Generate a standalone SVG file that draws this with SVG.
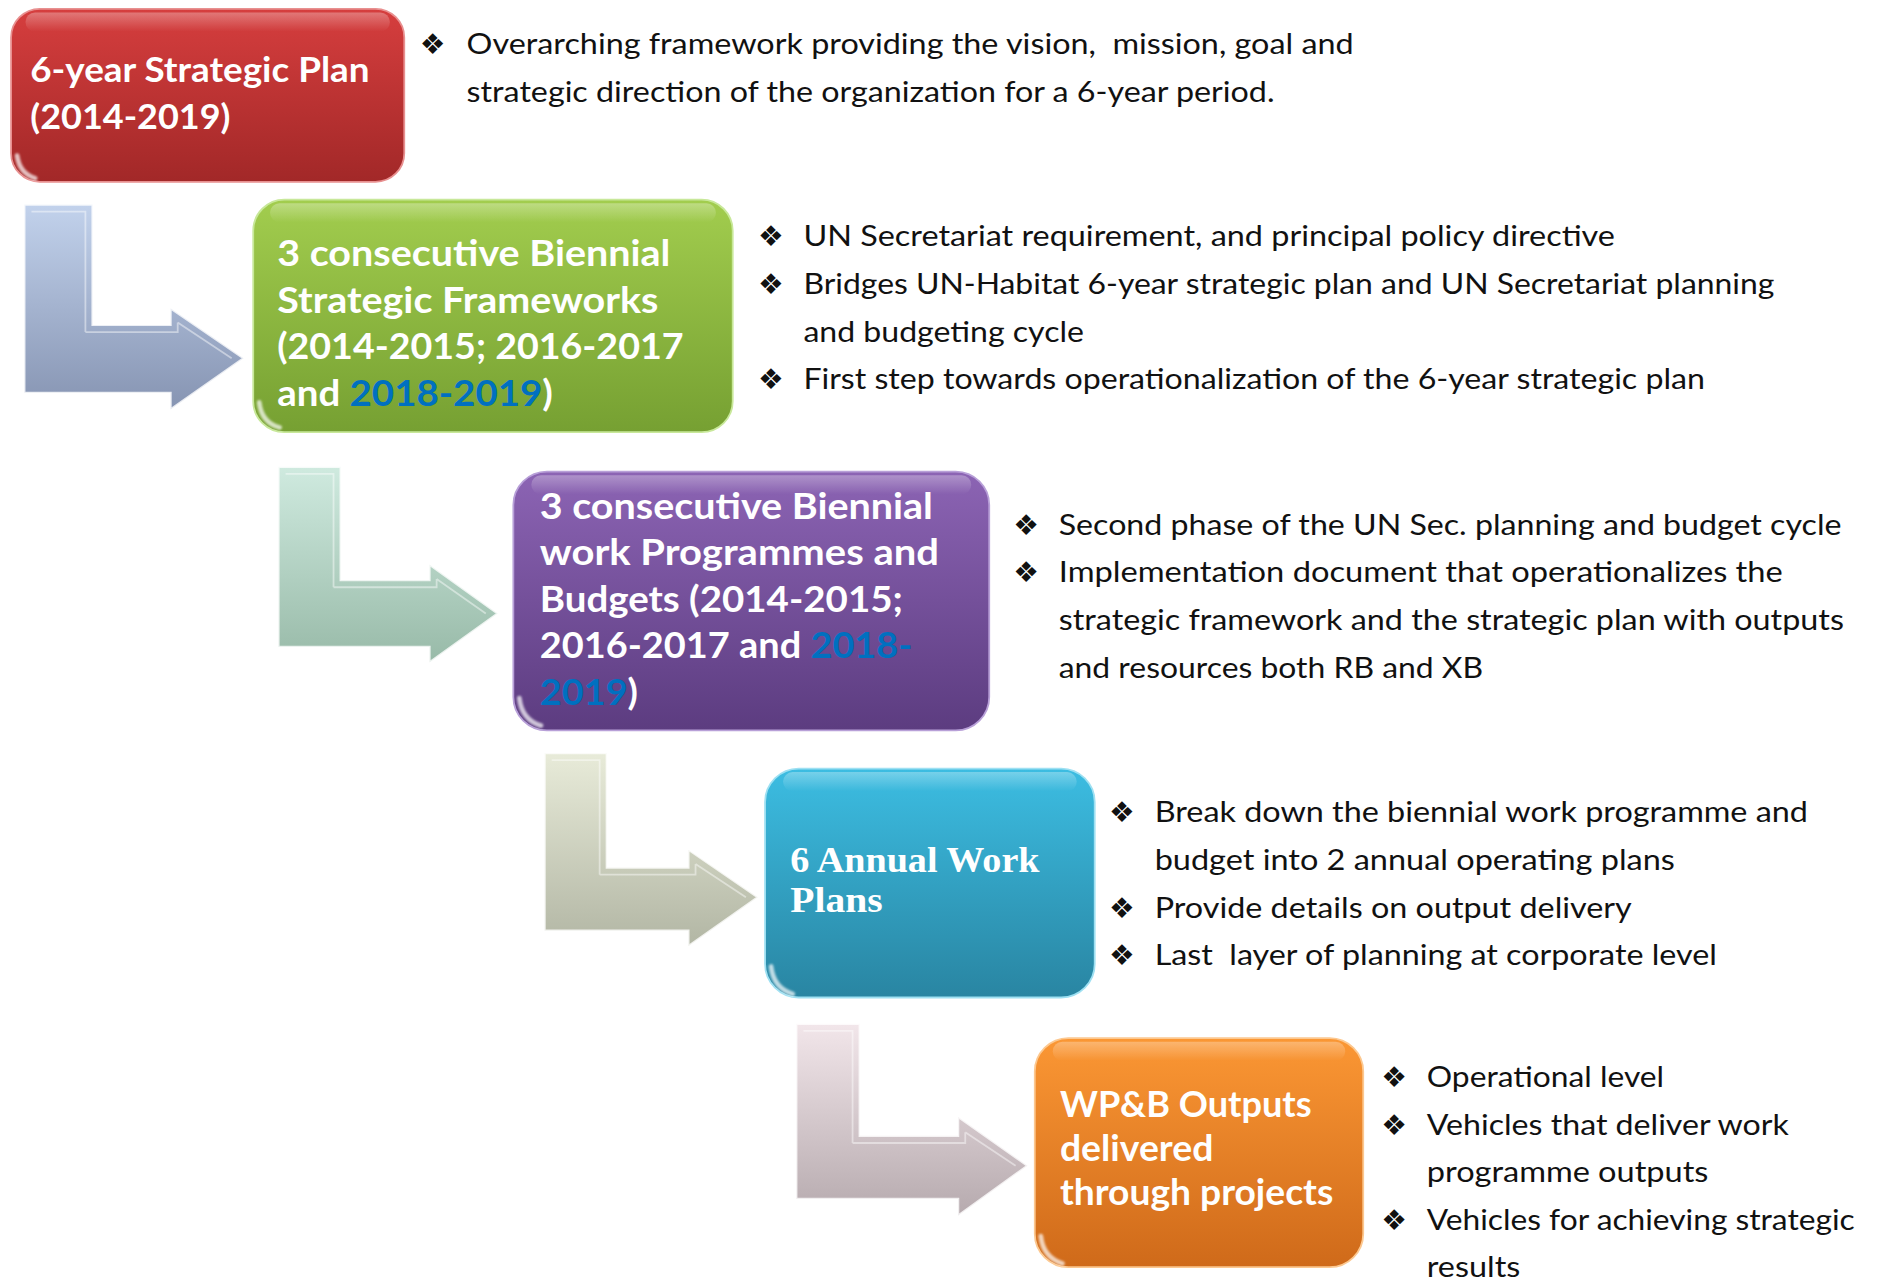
<svg xmlns="http://www.w3.org/2000/svg" width="1877" height="1282" viewBox="0 0 1877 1282">
<defs>
<style>
.title{font-family:Lato,"Open Sans","Liberation Sans",sans-serif;font-weight:bold;fill:#ffffff}
.serif{font-family:"Liberation Serif","DejaVu Serif",serif;font-weight:bold;fill:#ffffff}
.blue{fill:#0070C0}
.txt{font-family:Lato,"Open Sans","Liberation Sans",sans-serif;font-size:25px;fill:#111111}
.bul{font-family:"DejaVu Sans",sans-serif;font-size:24px;fill:#111111}
.gloss{fill:url(#gloss)}
.glint{fill:none;stroke:#ffffff;stroke-width:4;stroke-opacity:0.7;stroke-linecap:round;filter:url(#soft)}
.arr{stroke:#ffffff;stroke-width:2;stroke-opacity:0.8;stroke-linejoin:miter}
.bevel{fill:none;stroke:#ffffff;stroke-width:1.5;stroke-opacity:0.45}
</style>
<filter id="soft" x="-50%" y="-50%" width="200%" height="200%"><feGaussianBlur stdDeviation="0.8"/></filter>
<linearGradient id="gRed" x1="0" y1="0" x2="0" y2="1"><stop offset="0" stop-color="#d63e3e"/><stop offset="1" stop-color="#a22828"/></linearGradient>
<linearGradient id="gGreen" x1="0" y1="0" x2="0" y2="1"><stop offset="0" stop-color="#a2cd4e"/><stop offset="1" stop-color="#76a032"/></linearGradient>
<linearGradient id="gPurple" x1="0" y1="0" x2="0" y2="1"><stop offset="0" stop-color="#8c64b4"/><stop offset="1" stop-color="#5c3c80"/></linearGradient>
<linearGradient id="gBlue" x1="0" y1="0" x2="0" y2="1"><stop offset="0" stop-color="#3cbde2"/><stop offset="1" stop-color="#2985a2"/></linearGradient>
<linearGradient id="gOrange" x1="0" y1="0" x2="0" y2="1"><stop offset="0" stop-color="#fb9734"/><stop offset="1" stop-color="#cf6a1a"/></linearGradient>
<linearGradient id="gloss" x1="0" y1="0" x2="0" y2="1"><stop offset="0" stop-color="#ffffff" stop-opacity="0.3"/><stop offset="1" stop-color="#ffffff" stop-opacity="0"/></linearGradient>
<linearGradient id="a1" x1="0" y1="0" x2="0" y2="1"><stop offset="0" stop-color="#c2d2ec"/><stop offset="1" stop-color="#8694b2"/></linearGradient>
<linearGradient id="a2" x1="0" y1="0" x2="0" y2="1"><stop offset="0" stop-color="#cfeadf"/><stop offset="1" stop-color="#98baa8"/></linearGradient>
<linearGradient id="a3" x1="0" y1="0" x2="0" y2="1"><stop offset="0" stop-color="#e8ebd9"/><stop offset="1" stop-color="#b2b6a4"/></linearGradient>
<linearGradient id="a4" x1="0" y1="0" x2="0" y2="1"><stop offset="0" stop-color="#f2e6ea"/><stop offset="1" stop-color="#b6aaae"/></linearGradient>
</defs>
<rect width="1877" height="1282" fill="#ffffff"/>
<g transform="translate(1.5,0.5) scale(1.1987,1.1926)">
<g id="connectors">
<path class="arr" fill="url(#a1)" d="M19,171 H76 V272 H141 V258 L202,300 L141,343 V329 H19 Z"/>
<path class="bevel" d="M25,177 H70 V278 M70,278 H147 V270 M147,270 L192,300"/>
<path class="arr" fill="url(#a2)" d="M231,391 H283 V486 H357 V473 L414,514 L357,555 V542 H231 Z"/>
<path class="bevel" d="M237,397 H277 V492 M277,492 H363 V485 M363,485 L404,514"/>
<path class="arr" fill="url(#a3)" d="M453,631 H505 V727 H573 V712 L631,752 L573,793 V780 H453 Z"/>
<path class="bevel" d="M459,637 H499 V733 M499,733 H579 V724 M579,724 L621,752"/>
<path class="arr" fill="url(#a4)" d="M663,858 H716 V952 H798 V936 L856,977 L798,1019 V1005 H663 Z"/>
<path class="bevel" d="M669,864 H710 V958 M710,958 H804 V949 M804,949 L846,977"/>
</g>

<g id="node-strategic-plan">
<rect x="8" y="7" width="328" height="145" rx="24" fill="url(#gRed)" stroke="#e89090" stroke-width="1.5"/>
<rect x="20" y="10" width="304" height="16" rx="8" class="gloss"/>
<path class="glint" d="M13,130 Q15,145 28,149"/>
<text class="title" font-size="29" x="24" y="68" textLength="283" lengthAdjust="spacingAndGlyphs">6-year Strategic Plan</text>
<text class="title" font-size="29" x="24" y="108" textLength="167" lengthAdjust="spacingAndGlyphs">(2014-2019)</text>
</g>
<g id="desc-strategic-plan">
<text class="bul" x="349" y="45">❖</text>
<text class="txt" x="388" y="45" xml:space="preserve" textLength="740" lengthAdjust="spacingAndGlyphs">Overarching framework providing the vision,  mission, goal and</text>
<text class="txt" x="388" y="85" textLength="674" lengthAdjust="spacingAndGlyphs">strategic direction of the organization for a 6-year period.</text>
</g>

<g id="node-strategic-frameworks">
<rect x="210" y="167" width="400" height="195" rx="26" fill="url(#gGreen)" stroke="#c8e89a" stroke-width="1.5"/>
<rect x="224" y="170" width="372" height="16" rx="8" class="gloss"/>
<path class="glint" d="M215,337 Q217,354 232,358"/>
<text class="title" font-size="31" x="230" y="223" textLength="328" lengthAdjust="spacingAndGlyphs">3 consecutive Biennial</text>
<text class="title" font-size="31" x="230" y="262" textLength="318" lengthAdjust="spacingAndGlyphs">Strategic Frameworks</text>
<text class="title" font-size="31" x="230" y="301" textLength="339" lengthAdjust="spacingAndGlyphs">(2014-2015; 2016-2017</text>
<text class="title" font-size="31" x="230" y="340" textLength="230" lengthAdjust="spacingAndGlyphs">and <tspan class="blue">2018-2019</tspan>)</text>
</g>
<g id="desc-strategic-frameworks">
<text class="bul" x="631" y="206">❖</text>
<text class="txt" x="669" y="206" textLength="677" lengthAdjust="spacingAndGlyphs">UN Secretariat requirement, and principal policy directive</text>
<text class="bul" x="631" y="246">❖</text>
<text class="txt" x="669" y="246" textLength="810" lengthAdjust="spacingAndGlyphs">Bridges UN-Habitat 6-year strategic plan and UN Secretariat planning</text>
<text class="txt" x="669" y="286" textLength="234" lengthAdjust="spacingAndGlyphs">and budgeting cycle</text>
<text class="bul" x="631" y="326">❖</text>
<text class="txt" x="669" y="326" textLength="752" lengthAdjust="spacingAndGlyphs">First step towards operationalization of the 6-year strategic plan</text>
</g>

<g id="node-work-programmes">
<rect x="427" y="395" width="397" height="217" rx="28" fill="url(#gPurple)" stroke="#b8a0d8" stroke-width="1.5"/>
<rect x="442" y="398" width="367" height="16" rx="8" class="gloss"/>
<path class="glint" d="M432,585 Q434,603 450,608"/>
<text class="title" font-size="31" x="449" y="434.5" textLength="328" lengthAdjust="spacingAndGlyphs">3 consecutive Biennial</text>
<text class="title" font-size="31" x="449" y="473.5" textLength="333" lengthAdjust="spacingAndGlyphs">work Programmes and</text>
<text class="title" font-size="31" x="449" y="512.5" textLength="303" lengthAdjust="spacingAndGlyphs">Budgets (2014-2015;</text>
<text class="title" font-size="31" x="449" y="551.5" textLength="311" lengthAdjust="spacingAndGlyphs">2016-2017 and <tspan class="blue">2018-</tspan></text>
<text class="title" font-size="31" x="449" y="590.5" textLength="82" lengthAdjust="spacingAndGlyphs"><tspan class="blue">2019</tspan>)</text>
</g>
<g id="desc-work-programmes">
<text class="bul" x="844" y="448">❖</text>
<text class="txt" x="882" y="448" textLength="653" lengthAdjust="spacingAndGlyphs">Second phase of the UN Sec. planning and budget cycle</text>
<text class="bul" x="844" y="488">❖</text>
<text class="txt" x="882" y="488" textLength="604" lengthAdjust="spacingAndGlyphs">Implementation document that operationalizes the</text>
<text class="txt" x="882" y="528" textLength="655" lengthAdjust="spacingAndGlyphs">strategic framework and the strategic plan with outputs</text>
<text class="txt" x="882" y="568" textLength="354" lengthAdjust="spacingAndGlyphs">and resources both RB and XB</text>
</g>

<g id="node-annual-work-plans">
<rect x="637" y="644" width="275" height="192" rx="28" fill="url(#gBlue)" stroke="#9ee0f2" stroke-width="1.5"/>
<rect x="652" y="647" width="245" height="16" rx="8" class="gloss"/>
<path class="glint" d="M642,810 Q644,828 660,833"/>
<text class="serif" font-size="30" x="658" y="731" textLength="208" lengthAdjust="spacingAndGlyphs">6 Annual Work</text>
<text class="serif" font-size="30" x="658" y="764" textLength="77" lengthAdjust="spacingAndGlyphs">Plans</text>
</g>
<g id="desc-annual-work-plans">
<text class="bul" x="924" y="689">❖</text>
<text class="txt" x="962" y="689" textLength="545" lengthAdjust="spacingAndGlyphs">Break down the biennial work programme and</text>
<text class="txt" x="962" y="729" textLength="434" lengthAdjust="spacingAndGlyphs">budget into 2 annual operating plans</text>
<text class="bul" x="924" y="769">❖</text>
<text class="txt" x="962" y="769" textLength="398" lengthAdjust="spacingAndGlyphs">Provide details on output delivery</text>
<text class="bul" x="924" y="809">❖</text>
<text class="txt" x="962" y="809" xml:space="preserve" textLength="469" lengthAdjust="spacingAndGlyphs">Last  layer of planning at corporate level</text>
</g>

<g id="node-wpb-outputs">
<rect x="862" y="870" width="274" height="192" rx="28" fill="url(#gOrange)" stroke="#fcc890" stroke-width="1.5"/>
<rect x="877" y="873" width="244" height="16" rx="8" class="gloss"/>
<path class="glint" d="M867,1036 Q869,1054 885,1059"/>
<text class="title" font-size="30" x="883" y="936" textLength="210" lengthAdjust="spacingAndGlyphs">WP&amp;B Outputs</text>
<text class="title" font-size="30" x="883" y="973" textLength="128" lengthAdjust="spacingAndGlyphs">delivered</text>
<text class="title" font-size="30" x="883" y="1010" textLength="228" lengthAdjust="spacingAndGlyphs">through projects</text>
</g>
<g id="desc-wpb-outputs">
<text class="bul" x="1151" y="911">❖</text>
<text class="txt" x="1189" y="911" textLength="198" lengthAdjust="spacingAndGlyphs">Operational level</text>
<text class="bul" x="1151" y="951">❖</text>
<text class="txt" x="1189" y="951" textLength="302" lengthAdjust="spacingAndGlyphs">Vehicles that deliver work</text>
<text class="txt" x="1189" y="991" textLength="235" lengthAdjust="spacingAndGlyphs">programme outputs</text>
<text class="bul" x="1151" y="1031">❖</text>
<text class="txt" x="1189" y="1031" textLength="357" lengthAdjust="spacingAndGlyphs">Vehicles for achieving strategic</text>
<text class="txt" x="1189" y="1070.5" textLength="78" lengthAdjust="spacingAndGlyphs">results</text>
</g>
</g>
</svg>
